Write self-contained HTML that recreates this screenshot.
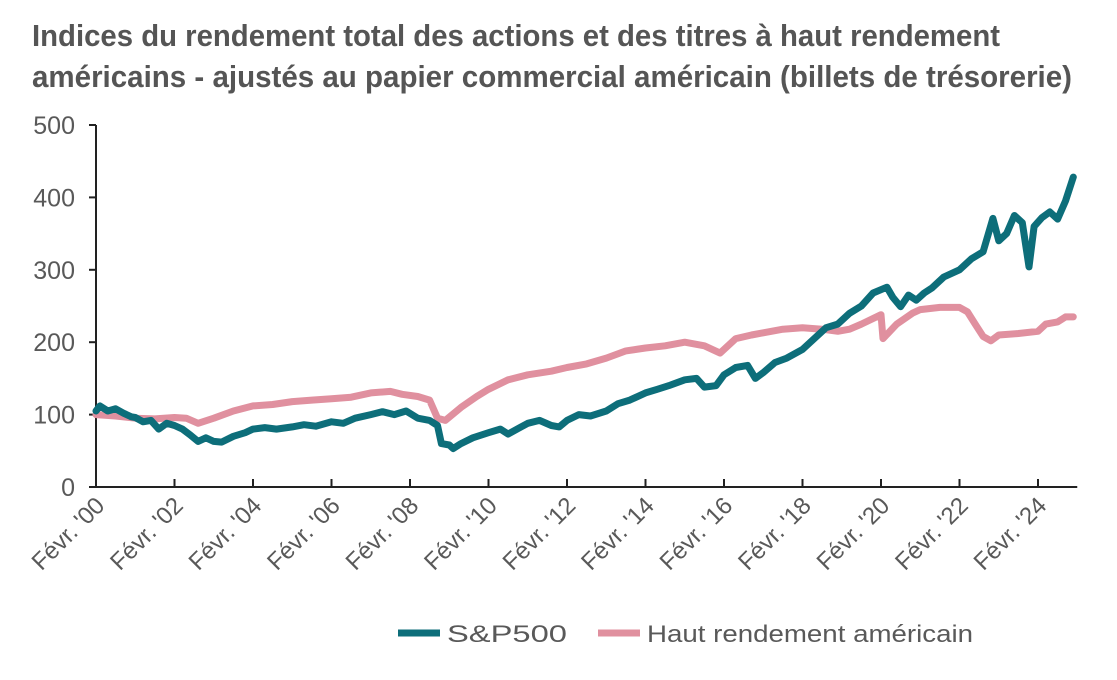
<!DOCTYPE html>
<html><head><meta charset="utf-8"><style>
body{margin:0;background:#fff;}
svg{display:block;font-family:"Liberation Sans",Arial,sans-serif;}
</style></head><body>
<svg id="chart" width="1117" height="680" viewBox="0 0 1117 680">
<text x="32" y="46" font-size="31" font-weight="bold" fill="#555" textLength="968" lengthAdjust="spacingAndGlyphs">Indices du rendement total des actions et des titres à haut rendement</text>
<text x="32" y="87" font-size="31" font-weight="bold" fill="#555" textLength="1040" lengthAdjust="spacingAndGlyphs">américains - ajustés au papier commercial américain (billets de trésorerie)</text>
<g id="axes"></g>
<g id="series"></g>
<g>
<line x1="398" y1="633" x2="440" y2="633" stroke="#0d6e7a" stroke-width="7"/>
<text x="447" y="642" font-size="24" fill="#595959" textLength="120" lengthAdjust="spacingAndGlyphs">S&amp;P500</text>
<line x1="598" y1="633" x2="640" y2="633" stroke="#e0909f" stroke-width="7"/>
<text x="647" y="642" font-size="24" fill="#595959" textLength="326" lengthAdjust="spacingAndGlyphs">Haut rendement américain</text>
</g>
</svg>
<script>
const yTicks=[0,100,200,300,400,500];
const xTickYears=[0,2,4,6,8,10,12,14,16,18,20,22,24];
const xTickLabels=["Févr. '00","Févr. '02","Févr. '04","Févr. '06","Févr. '08","Févr. '10","Févr. '12","Févr. '14","Févr. '16","Févr. '18","Févr. '20","Févr. '22","Févr. '24"];
const spT=[0,0.1,0.3,0.5,0.7,0.9,1.0,1.2,1.4,1.6,1.8,2.0,2.2,2.4,2.6,2.8,3.0,3.2,3.5,3.8,4.0,4.3,4.6,5.0,5.3,5.6,6.0,6.3,6.6,7.0,7.3,7.6,7.9,8.2,8.5,8.7,8.8,9.0,9.1,9.3,9.6,10.0,10.3,10.5,10.8,11.0,11.3,11.6,11.8,12.0,12.3,12.6,13.0,13.3,13.6,14.0,14.3,14.6,15.0,15.3,15.5,15.8,16.0,16.3,16.6,16.8,17.0,17.3,17.6,18.0,18.3,18.6,18.9,19.2,19.5,19.8,20.15,20.3,20.5,20.7,20.9,21.1,21.3,21.6,22.0,22.3,22.6,22.85,23.0,23.2,23.4,23.6,23.77,23.9,24.1,24.3,24.5,24.7,24.9];
const spV=[105,112,105,108,102,97,96,90,92,80,88,85,80,72,63,68,63,62,70,75,80,82,80,83,86,84,90,88,95,100,104,100,105,95,92,85,60,58,53,60,68,75,80,73,82,88,92,85,83,92,100,98,105,115,120,130,135,140,148,150,138,140,155,165,168,150,158,172,178,190,205,220,225,240,250,268,276,262,249,265,258,268,275,290,300,315,325,371,340,350,375,365,304,360,372,380,370,395,428];
const hyT=[0,0.5,1,1.5,2,2.3,2.6,3,3.5,4,4.5,5,5.5,6,6.5,7,7.5,7.8,8.2,8.5,8.7,8.9,9.3,9.7,10,10.5,11,11.6,12,12.5,13,13.5,14,14.5,15,15.5,15.9,16.3,16.7,17,17.5,18,18.5,18.9,19.2,19.5,20.0,20.05,20.4,20.8,21,21.5,22,22.2,22.4,22.6,22.8,23,23.5,24,24.2,24.5,24.7,24.9];
const hyV=[100,98,95,94,96,95,88,95,105,112,114,118,120,122,124,130,132,128,125,120,95,92,110,125,135,148,155,160,165,170,178,188,192,195,200,195,185,205,210,213,218,220,218,215,218,225,238,205,225,240,245,248,248,242,225,208,202,210,212,215,225,228,235,235];
const X0=96,PX_PER_YR=39.25,Y0=487,PX_PER_UNIT=0.724;
const xs=t=>X0+t*PX_PER_YR;
const ys=v=>Y0-v*PX_PER_UNIT;
const NS="http://www.w3.org/2000/svg";
const axes=document.getElementById('axes');
const series=document.getElementById('series');
function mk(tag,attrs,parent){const e=document.createElementNS(NS,tag);for(const k in attrs)e.setAttribute(k,attrs[k]);parent.appendChild(e);return e;}
const yAxis=mk('line',{x1:X0,y1:ys(500),x2:X0,y2:Y0,stroke:'#222','stroke-width':2},axes);


const xAxis=mk('line',{x1:X0,y1:Y0,x2:xs(25),y2:Y0,stroke:'#222','stroke-width':2},axes);


yTicks.forEach(v=>{
  const tk=mk('line',{x1:X0-7,y1:ys(v),x2:X0,y2:ys(v),stroke:'#222','stroke-width':2},axes);
  
  
  const tx=mk('text',{x:75,y:ys(v)+9,'font-size':25,fill:'#595959','text-anchor':'end'},axes);
  tx.textContent=v;
  
  
});
xTickYears.forEach((t,i)=>{
  if(t>0){const tk=mk('line',{x1:xs(t),y1:Y0-8,x2:xs(t),y2:Y0,stroke:'#222','stroke-width':2},axes);
  
  }
  const tx=mk('text',{x:xs(t)+10,y:Y0+20,'font-size':24,fill:'#595959','text-anchor':'end',transform:`rotate(-45 ${xs(t)+10} ${Y0+20})`},axes);
  tx.textContent=xTickLabels[i];
  
  
});
function line(T,V){return T.map((t,i)=>(i?'L':'M')+xs(t).toFixed(1)+','+ys(V[i]).toFixed(1)).join('');}
const hy=mk('path',{d:line(hyT,hyV),fill:'none',stroke:'#e0909f','stroke-width':7,'stroke-linejoin':'round','stroke-linecap':'round'},series);


const sp=mk('path',{d:line(spT,spV),fill:'none',stroke:'#0d6e7a','stroke-width':7,'stroke-linejoin':'round','stroke-linecap':'round'},series);


</script>
</body></html>
